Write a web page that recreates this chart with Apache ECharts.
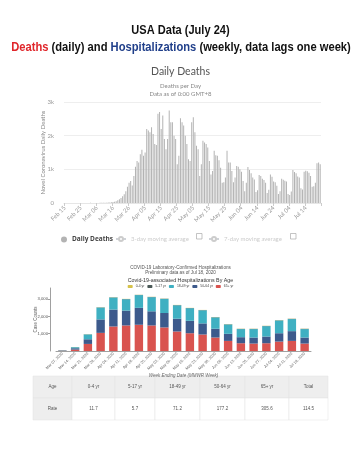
<!DOCTYPE html>
<html><head><meta charset="utf-8">
<script src="https://cdn.jsdelivr.net/npm/echarts@6/dist/echarts.min.js"></script>
<style>html,body{margin:0;padding:0;background:#fff}#c{width:361px;height:450px}</style>
</head><body><div id="c"></div>
<script>
// ---------- Daily deaths ----------
const deathDates = [
'Feb 15','Feb 16','Feb 17','Feb 18','Feb 19','Feb 20','Feb 21','Feb 22','Feb 23','Feb 24','Feb 25','Feb 26','Feb 27','Feb 28','Feb 29',
'Mar 01','Mar 02','Mar 03','Mar 04','Mar 05','Mar 06','Mar 07','Mar 08','Mar 09','Mar 10','Mar 11','Mar 12','Mar 13','Mar 14','Mar 15','Mar 16','Mar 17','Mar 18','Mar 19','Mar 20','Mar 21','Mar 22','Mar 23','Mar 24','Mar 25','Mar 26','Mar 27','Mar 28','Mar 29','Mar 30','Mar 31',
'Apr 01','Apr 02','Apr 03','Apr 04','Apr 05','Apr 06','Apr 07','Apr 08','Apr 09','Apr 10','Apr 11','Apr 12','Apr 13','Apr 14','Apr 15','Apr 16','Apr 17','Apr 18','Apr 19','Apr 20','Apr 21','Apr 22','Apr 23','Apr 24','Apr 25','Apr 26','Apr 27','Apr 28','Apr 29','Apr 30',
'May 01','May 02','May 03','May 04','May 05','May 06','May 07','May 08','May 09','May 10','May 11','May 12','May 13','May 14','May 15','May 16','May 17','May 18','May 19','May 20','May 21','May 22','May 23','May 24','May 25','May 26','May 27','May 28','May 29','May 30','May 31',
'Jun 01','Jun 02','Jun 03','Jun 04','Jun 05','Jun 06','Jun 07','Jun 08','Jun 09','Jun 10','Jun 11','Jun 12','Jun 13','Jun 14','Jun 15','Jun 16','Jun 17','Jun 18','Jun 19','Jun 20','Jun 21','Jun 22','Jun 23','Jun 24','Jun 25','Jun 26','Jun 27','Jun 28','Jun 29','Jun 30',
'Jul 01','Jul 02','Jul 03','Jul 04','Jul 05','Jul 06','Jul 07','Jul 08','Jul 09','Jul 10','Jul 11','Jul 12','Jul 13','Jul 14','Jul 15','Jul 16','Jul 17','Jul 18','Jul 19','Jul 20','Jul 21','Jul 22','Jul 23'
];
const dailyDeaths = [
0,0,0,0,0,0,0,0,0,0,0,0,0,0,1,
1,5,1,3,1,2,3,4,4,6,8,10,12,15,20,30,40,55,80,110,150,200,260,350,480,600,650,520,800,1080,1250,
1200,1450,1580,1400,1500,2200,2150,2100,2250,2050,1750,1720,2650,2700,2200,2600,1900,1600,1900,2750,2400,2400,2000,1900,1150,1400,2520,2400,2300,2000,
1750,1300,1250,2400,2550,2100,1700,1600,800,1150,1850,1800,1750,1650,1250,850,950,1550,1420,1400,1270,1050,600,620,760,1550,1200,1200,950,620,760,
1100,1080,1000,930,650,350,600,1070,980,880,760,700,330,380,830,800,720,680,600,300,390,850,780,640,620,510,270,350,720,690,
660,640,270,240,340,980,920,880,790,760,440,400,930,960,940,900,800,480,500,600,1180,1200,1150
];

// ---------- Hospitalizations ----------
const weekLabels = ['Mar 07, 2020','Mar 14, 2020','Mar 21, 2020','Mar 28, 2020','Apr 04, 2020','Apr 11, 2020','Apr 18, 2020','Apr 25, 2020','May 02, 2020','May 09, 2020','May 16, 2020','May 23, 2020','May 30, 2020','Jun 06, 2020','Jun 13, 2020','Jun 20, 2020','Jun 27, 2020','Jul 04, 2020','Jul 11, 2020','Jul 18, 2020'];
const age0_4   = [2,4,6,8,8,8,6,8,8,8,8,8,8,8,8,8,8,8,8,8];
const age5_17  = [2,4,8,10,12,12,10,12,10,12,12,12,12,12,12,12,12,12,14,14];
const age18_49 = [15,60,280,690,700,660,740,820,820,780,730,760,660,545,470,490,600,740,700,490];
const age50_64 = [15,80,270,780,980,860,980,820,835,740,720,645,510,410,350,350,390,485,565,350];
const age65p   = [20,80,410,1050,1420,1480,1520,1480,1365,1130,1030,955,780,585,450,430,450,545,585,430];
const ageGroups = ['0-4 yr','5-17 yr','18-49 yr','50-64 yr','65+ yr'];

// ---------- Table ----------
const tableHeader = ['Age','0-4 yr','5-17 yr','18-49 yr','50-64 yr','65+ yr','Total'];
const tableRow = ['Rate','11.7','5.7','71.2','177.2','305.6','114.5'];

const narrow = "'Liberation Sans',Arial,sans-serif";
const sans = "Lato,'Open Sans',sans-serif";

const colX = [33,72,115,155,200,245,289,328];
const rowY = [376,398,420];
const g = [];
// main headline (condensed bold)
g.push({type:'text', x:180.5, y:30, scaleX:0.85, silent:true,
  style:{text:'USA Data (July 24)', fill:'#111', fontFamily:narrow, fontWeight:'bold', fontSize:13, align:'center', verticalAlign:'middle'}});
g.push({type:'text', x:181, y:47, scaleX:0.86, silent:true,
  style:{text:'{r|Deaths} {k|(daily) and} {b|Hospitalizations} {k|(weekly, data lags one week)}', fontFamily:narrow, fontWeight:'bold', fontSize:13, align:'center', verticalAlign:'middle',
    rich:{r:{fill:'#e0262b', fontFamily:narrow, fontWeight:'bold', fontSize:13},
          b:{fill:'#203f8a', fontFamily:narrow, fontWeight:'bold', fontSize:13},
          k:{fill:'#111', fontFamily:narrow, fontWeight:'bold', fontSize:13}}}});
for (let r = 0; r < 2; r++) {
  for (let c = 0; c < 7; c++) {
    const bg = (r === 0 || c === 0) ? '#eeeeee' : '#ffffff';
    g.push({type:'rect', shape:{x:colX[c], y:rowY[r], width:colX[c+1]-colX[c], height:rowY[r+1]-rowY[r]},
      style:{fill:bg, stroke:'#e0e0e0', lineWidth:0.5}, silent:true});
    g.push({type:'text', x:(colX[c]+colX[c+1])/2, y:(rowY[r]+rowY[r+1])/2,
      style:{text:(r===0?tableHeader:tableRow)[c], fill:'#555', fontSize:4.5, fontFamily:'Liberation Sans, sans-serif', align:'center', verticalAlign:'middle'}, silent:true});
  }
}
// legend checkboxes
g.push({type:'rect', shape:{x:196.5, y:233.5, width:5.5, height:5.5}, style:{fill:'#fff', stroke:'#aaa', lineWidth:0.7}, silent:true});
g.push({type:'rect', shape:{x:290.5, y:233.5, width:5.5, height:5.5}, style:{fill:'#fff', stroke:'#aaa', lineWidth:0.7}, silent:true});

const chart = echarts.init(document.getElementById('c'), null, {renderer:'canvas'});
chart.setOption({
  backgroundColor:'#fff',
  animation:false,
  title:[
    {text:'Daily Deaths', left:'center', top:61, textStyle:{fontFamily:sans, fontWeight:'normal', fontSize:10.5, color:'#555'}},
    {text:'Deaths per Day\nData as of 0:00 GMT+8', left:'center', top:77, textStyle:{fontFamily:sans, fontWeight:'normal', fontSize:6, lineHeight:8, color:'#888'}},
    {text:'COVID-19 Laboratory-Confirmed Hospitalizations\nPreliminary data as of Jul 18, 2020', left:'center', top:260, textStyle:{fontFamily:'Liberation Sans, sans-serif', fontWeight:'normal', fontSize:4.6, lineHeight:5, color:'#555'}},
    {text:'Covid-19-associated Hospitalizations By Age', left:'center', top:273, textStyle:{fontFamily:'Liberation Sans, sans-serif', fontWeight:'normal', fontSize:5.3, color:'#333'}}
  ],
  legend:[
    {data:['Daily Deaths'], icon:'circle', left:56, top:231, itemWidth:6, itemHeight:6, itemGap:4, textStyle:{fontSize:6.5, fontWeight:'bold', color:'#444', fontFamily:"'Open Sans',sans-serif"}},
    {data:['3-day moving average'], left:110, top:231, itemWidth:10, itemHeight:5, selected:{'3-day moving average':false}, inactiveColor:'#ccc', textStyle:{fontSize:6, fontFamily:sans}},
    {data:['7-day moving average'], left:203, top:231, itemWidth:10, itemHeight:5, selected:{'7-day moving average':false}, inactiveColor:'#ccc', textStyle:{fontSize:6, fontFamily:sans}},
    {data:ageGroups, left:'center', top:280, itemWidth:5, itemHeight:3, itemGap:3, textStyle:{fontSize:3.4, color:'#444', fontFamily:'Liberation Sans, sans-serif', padding:[0,0,0,-2]}}
  ],
  grid:[
    {left:64, right:40, top:102, bottom:247},
    {left:56, right:50, top:288, bottom:99}
  ],
  xAxis:[
    {type:'category', gridIndex:0, data:deathDates, boundaryGap:true,
     axisLine:{show:true, lineStyle:{color:'#e6e6e6'}},
     axisTick:{show:true, interval:9, length:3, lineStyle:{color:'#ccc'}},
     axisLabel:{interval:9, rotate:45, fontSize:6, color:'#999', margin:4, fontFamily:sans}},
    {type:'category', gridIndex:1, data:weekLabels,
     name:'Week Ending Date (MMWR Week)', nameLocation:'middle', nameGap:22, nameMoveOverlap:false, nameTextStyle:{fontSize:4.5, color:'#666', fontStyle:'italic'},
     axisLine:{lineStyle:{color:'#777', width:0.7}}, axisTick:{show:false},
     axisLabel:{interval:0, rotate:45, fontSize:3.8, color:'#666', margin:2}}
  ],
  yAxis:[
    {type:'value', gridIndex:0, min:0, max:3000, interval:1000,
     name:'Novel Coronavirus Daily Deaths', nameLocation:'middle', nameGap:18, nameMoveOverlap:false, nameTextStyle:{fontSize:6, color:'#888', fontFamily:sans},
     axisLine:{show:false}, axisTick:{show:false},
     splitLine:{lineStyle:{color:'#eeeeee', width:1}},
     axisLabel:{fontSize:6, color:'#999', margin:10, fontFamily:sans, formatter:function(v){return v===0?'0':(v/1000)+'k';}}},
    {type:'value', gridIndex:1, min:0, max:3650, interval:1000, offset:6,
     name:'Case Counts', nameLocation:'middle', nameGap:12, nameMoveOverlap:false, nameTextStyle:{fontSize:4.5, color:'#666'},
     axisLine:{show:true, lineStyle:{color:'#777', width:0.7}}, axisTick:{show:true, length:2, lineStyle:{color:'#777', width:0.7}},
     splitLine:{show:false},
     axisLabel:{fontSize:4.2, color:'#555', margin:2, showMinLabel:false, showMaxLabel:false, formatter:function(v){return v.toLocaleString('en-US');}}}
  ],
  series:[
    {name:'Daily Deaths', type:'bar', xAxisIndex:0, yAxisIndex:0, data:dailyDeaths, barWidth:'62%', itemStyle:{color:'#b3b3b3'}},
    {name:'3-day moving average', type:'line', xAxisIndex:0, yAxisIndex:0, data:[], itemStyle:{color:'#ccc'}},
    {name:'7-day moving average', type:'line', xAxisIndex:0, yAxisIndex:0, data:[], itemStyle:{color:'#ccc'}},
    {name:'65+ yr', type:'bar', stack:'h', xAxisIndex:1, yAxisIndex:1, data:age65p, barCategoryGap:'34%', itemStyle:{color:'#d9534f'}},
    {name:'50-64 yr', type:'bar', stack:'h', xAxisIndex:1, yAxisIndex:1, data:age50_64, itemStyle:{color:'#3d5a8c'}},
    {name:'18-49 yr', type:'bar', stack:'h', xAxisIndex:1, yAxisIndex:1, data:age18_49, itemStyle:{color:'#3fb0c2'}},
    {name:'5-17 yr', type:'bar', stack:'h', xAxisIndex:1, yAxisIndex:1, data:age5_17, itemStyle:{color:'#4b5a58'}},
    {name:'0-4 yr', type:'bar', stack:'h', xAxisIndex:1, yAxisIndex:1, data:age0_4, itemStyle:{color:'#d6c24a'}}
  ],
  graphic:g
});
</script></body></html>
